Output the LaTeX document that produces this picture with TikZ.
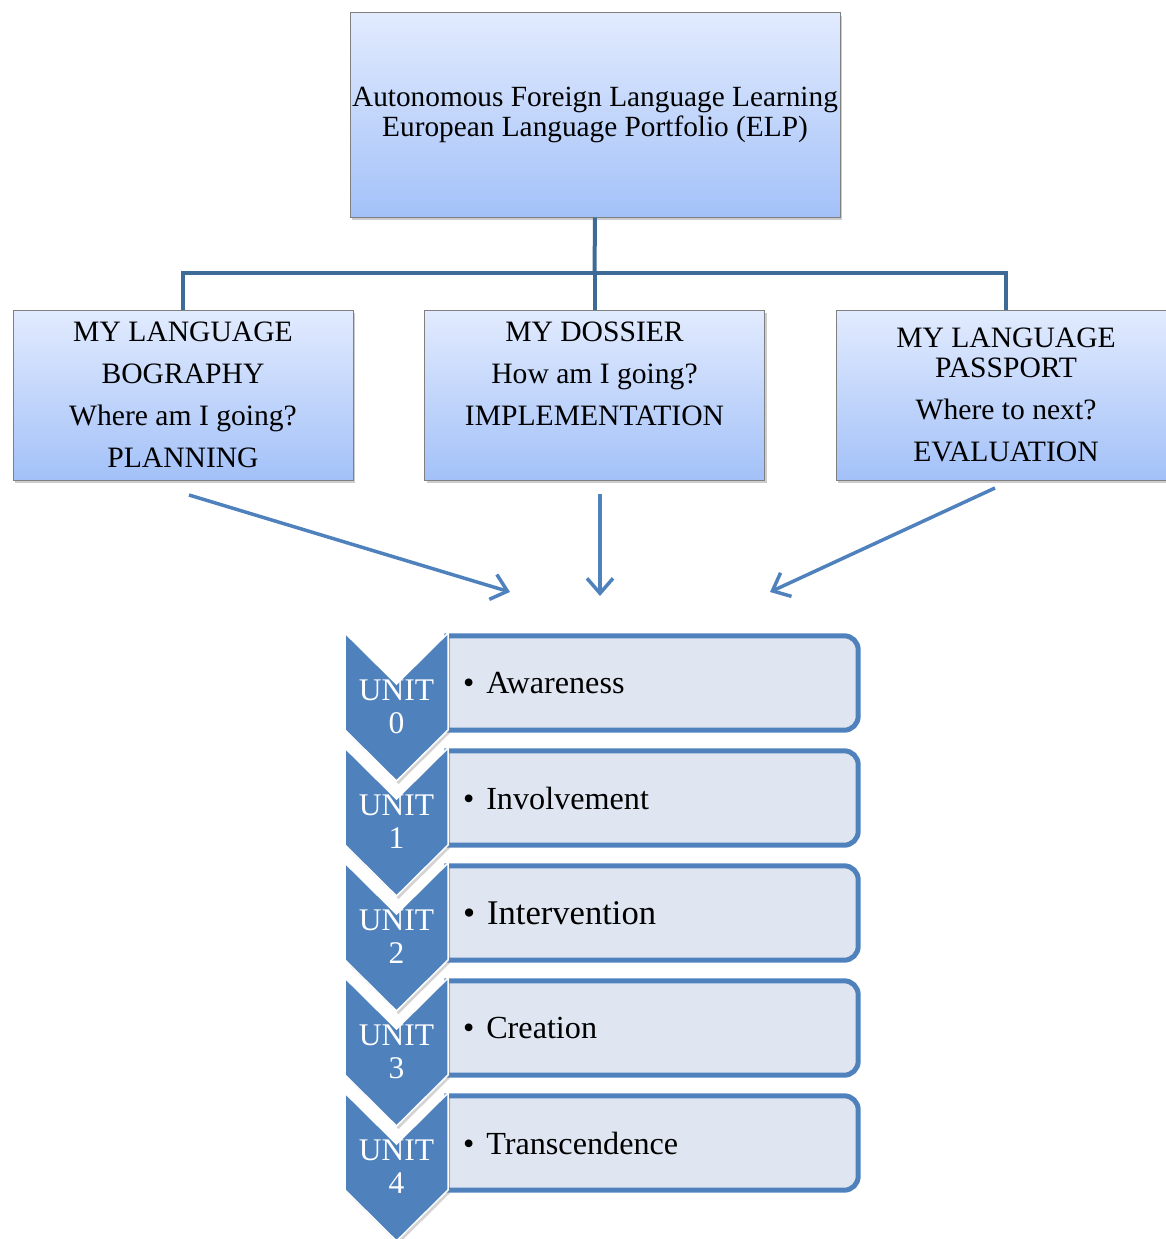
\documentclass[tikz,border=0pt]{standalone}
\usepackage{fontspec}
\setmainfont{Liberation Serif}
\usetikzlibrary{arrows.meta,shadows,calc}
\definecolor{chev}{RGB}{79,129,189}
\definecolor{connc}{RGB}{62,106,152}
\definecolor{boxtop}{RGB}{226,235,254}
\definecolor{boxbot}{RGB}{163,193,248}
\definecolor{itemfill}{RGB}{223,230,241}
\definecolor{boxline}{RGB}{128,128,128}
\pgfdeclarelayer{bg}
\pgfsetlayers{bg,main}
\begin{document}
\begin{tikzpicture}[x=1pt,y=-1pt,
  gradbox/.style={draw=boxline, line width=1pt, top color=boxtop, bottom color=boxbot,
    drop shadow={shadow xshift=2pt, shadow yshift=-3pt, opacity=0.4},
    align=center, inner sep=0pt},
  midfont/.style={font=\fontsize{29.6}{42}\selectfont},
  conn/.style={draw=connc, line width=4pt},
  flow/.style={draw=chev, line width=3.5pt, -{Straight Barb[length=15pt,width=26pt,line width=3.5pt]}},
  itemnode/.style={minimum height=94pt, text width=379pt, inner xsep=16pt, inner ysep=0pt, align=left},
  itembox/.style={draw=chev, line width=5pt, fill=itemfill},
  chevron/.style={fill=chev, draw=white, line width=1.5pt,
    drop shadow={shadow xshift=2pt, shadow yshift=-3pt, opacity=0.35}},
  unitlabel/.style={text=white, align=center, inner sep=0pt, font=\fontsize{31.5}{33}\selectfont}
]
\useasboundingbox (0,0) rectangle (1165,1239);

% top box
\node[gradbox, minimum width=490pt, minimum height=204pt, font=\fontsize{29.3}{30}\selectfont]
  (top) at (595,115) {Autonomous Foreign Language Learning\\European Language Portfolio (ELP)};

% three boxes
\node[gradbox, midfont, minimum width=340pt, minimum height=170pt] (b1) at (183,395)
  {MY LANGUAGE\\BOGRAPHY\\Where am I going?\\PLANNING};
\node[gradbox, midfont, minimum width=340pt, minimum height=170pt] (b2) at (594.5,395)
  {MY DOSSIER\\How am I going?\\IMPLEMENTATION\\\phantom{X}};
\node[gradbox, midfont, minimum width=340pt, minimum height=170pt] (b3) at (1006,395)
  {MY LANGUAGE\\[-12pt]PASSPORT\\Where to next?\\EVALUATION};

% connectors
\coordinate (bus) at (594.5,273);
\draw[conn] (top.south) -- (bus);
\draw[conn] (b1.north) |- (bus);
\draw[conn] (b3.north) |- (bus);
\draw[conn] (b2.north) -- (bus);

% arrows
\coordinate (a1s) at (189,495); \coordinate (a1e) at (510,592);
\coordinate (a2s) at (600,494); \coordinate (a2e) at (600,596);
\coordinate (a3s) at (995,488); \coordinate (a3e) at (770,592);
\draw[flow] (a1s) -- (a1e);
\draw[flow] (a2s) -- (a2e);
\draw[flow] (a3s) -- (a3e);

% items
\foreach \k/\txt/\fs in {0/Awareness/32.2, 1/Involvement/32.2, 2/Intervention/34.6, 3/Creation/32.2, 4/Transcendence/32.2}{
  \node[itemnode, font=\fontsize{\fs}{36}\selectfont] (i\k) at (652.5,683+115*\k)
    {\textbullet\hspace{12pt}\txt};
  \begin{pgfonlayer}{bg}
  \draw[itembox] (i\k.north west) -- ([xshift=-14pt]i\k.north east)
     arc[start angle=90,end angle=0,radius=14pt] -- ([yshift=14pt]i\k.south east)
     arc[start angle=0,end angle=-90,radius=14pt] -- (i\k.south west) -- cycle;
  \end{pgfonlayer}
}

% chevrons
\foreach \k in {0,...,4}{
  \pgfmathsetmacro{\yz}{633+115*\k}
  \draw[chevron] (345,\yz) -- (396.5,\yz+51) -- (448,\yz) -- (448,\yz+97)
     -- (396.5,\yz+148) -- (345,\yz+97) -- cycle;
  \node[unitlabel] (u\k) at (396.5,707+115*\k) {UNIT\\\k};
}
\end{tikzpicture}
\end{document}
